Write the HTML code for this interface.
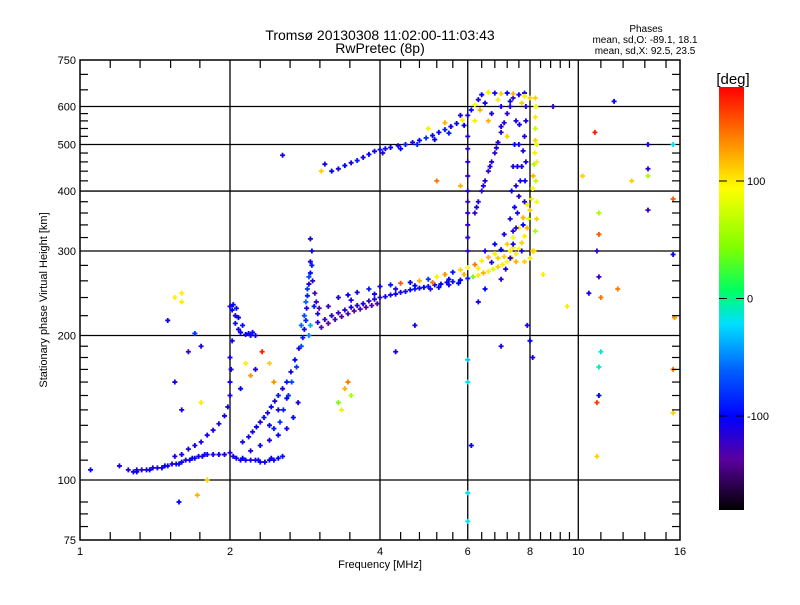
<!DOCTYPE html>
<html><head><meta charset="utf-8">
<style>
body{margin:0;background:#fff}
svg text{font-family:"Liberation Sans",sans-serif;fill:#000}
</style></head>
<body>
<svg id="chart" width="800" height="600" viewBox="0 0 800 600" xmlns="http://www.w3.org/2000/svg">
<defs>
<linearGradient id="cbar" x1="0" y1="1" x2="0" y2="0">
<stop offset="0" stop-color="#000000"/>
<stop offset="0.12" stop-color="#5a00a0"/>
<stop offset="0.22" stop-color="#0000ff"/>
<stop offset="0.33" stop-color="#0060ff"/>
<stop offset="0.44" stop-color="#00e0ff"/>
<stop offset="0.52" stop-color="#00ff60"/>
<stop offset="0.62" stop-color="#80ff00"/>
<stop offset="0.76" stop-color="#ffff00"/>
<stop offset="0.88" stop-color="#ff8000"/>
<stop offset="1" stop-color="#ff0000"/>
</linearGradient>
</defs>
<text x="380" y="40" font-size="14" text-anchor="middle">Tromsø 20130308 11:02:00-11:03:43</text>
<text x="380" y="53" font-size="14" text-anchor="middle">RwPretec (8p)</text>
<text x="646" y="32" font-size="10" text-anchor="middle">Phases</text>
<text x="645" y="43" font-size="10" text-anchor="middle">mean, sd,O: -89.1, 18.1</text>
<text x="645" y="54" font-size="10" text-anchor="middle">mean, sd,X:  92.5, 23.5</text>
<g id="grid"></g>
<g id="marks"></g>
<rect x="80" y="60" width="600" height="480" fill="none" stroke="#000" stroke-width="1.5"/>
<g id="axes"></g>
<text x="380" y="568" font-size="11" text-anchor="middle">Frequency [MHz]</text>
<text x="0" y="0" font-size="11" text-anchor="middle" transform="translate(47,300) rotate(-90)">Stationary phase Virtual Height [km]</text>
<rect x="719" y="87" width="25" height="423" fill="url(#cbar)"/>
<text x="733" y="84" font-size="15" text-anchor="middle">[deg]</text>
<g id="cbticks"></g>
</svg>
<script>
const NS='http://www.w3.org/2000/svg';
const xTickLabels=[1,2,4,6,8,10,16];
const xGrid=[2,4,6,8,10];
const xMinor=[1.15,1.32,1.52,1.74,2.3,2.64,3.03,3.48,4.4,4.8,5.2,5.6,6.4,6.8,7.2,7.6,8.4,8.8,9.2,9.6,11.1,12.3,13.6,15];
const yTickLabels=[75,100,200,300,400,500,600,750];
const yGrid=[100,200,300,400,500,600];
const yMinor=[80,85,90,110,120,130,140,150,160,170,180,190,220,240,260,280,320,340,360,380,420,440,460,480,520,540,560,580,650,700];
const cbTicks=[100,0,-100];
// echo traces: [frequency MHz, height km, phase deg]
const traceLowE=[[1.05,105,-100],[1.2,107,-110],[1.25,105,-110],[1.28,104,-115],[1.3,105,-110],[1.33,105,-112],[1.36,105,-110],[1.4,106,-108],[1.43,106,-110],[1.46,106,-105],[1.5,107,-110],[1.53,108,-108],[1.56,108,-110],[1.6,109,-105],[1.63,110,-110],[1.66,110,-108],[1.7,111,-110],[1.73,112,-105],[1.76,112,-110],[1.8,113,-108],[1.85,113,-110],[1.9,113,-105],[1.95,113,-110],[2.0,114,-112],[2.03,112,-110],[2.06,111,-108],[2.1,110,-110],[2.15,110,-105],[2.2,110,-110],[2.25,110,-112],[2.3,109,-110],[2.35,109,-105],[2.4,110,-108],[2.45,110,-110],[2.5,111,-100],[2.55,112,-95],[1.3,104,-105],[1.38,105,-100],[1.48,107,-100],[1.58,108,-95],[1.68,111,-100],[1.78,113,-95],[2.12,111,-100],[2.28,110,-95],[2.42,111,-100]];
const traceRiseE=[[1.55,112,-110],[1.6,113,-105],[1.65,116,-110],[1.7,118,-108],[1.75,120,-110],[1.8,124,-105],[1.85,127,-110],[1.9,131,-110],[1.95,136,-108],[1.98,142,-110],[2.0,150,-110],[2.0,160,-108],[2.01,170,-110],[2.0,180,-105],[2.02,195,-110],[2.0,230,-110],[2.02,226,-100],[2.05,220,-110],[2.05,212,-95],[2.08,206,-110],[2.1,203,-100],[2.15,201,-110],[2.2,200,-105],[2.25,200,-110],[2.03,232,-100],[2.06,228,-95],[2.08,218,-100],[2.12,210,-95],[2.18,202,-100],[2.22,203,-95]];
const traceMid=[[2.12,120,-110],[2.18,123,-105],[2.22,126,-110],[2.26,129,-100],[2.3,132,-110],[2.34,135,-95],[2.38,138,-110],[2.42,142,-100],[2.46,146,-110],[2.5,150,-90],[2.55,155,-110],[2.6,160,-95],[2.65,168,-110],[2.7,178,-100],[2.75,188,-110],[2.8,198,-90],[2.82,206,-110],[2.84,215,-85],[2.85,228,-110],[2.86,242,-90],[2.88,256,-110],[2.9,270,-100],[2.9,285,-110],[2.92,300,-105],[2.9,318,-110],[2.95,230,-90],[3.0,222,-110],[2.78,210,-60],[2.2,115,-110],[2.3,118,-105],[2.4,121,-110],[2.5,124,-100],[2.6,128,-110],[2.68,135,-100],[2.74,145,-110],[2.4,130,-100],[2.5,140,-110],[2.6,148,-100],[2.82,220,-70],[2.84,235,-60],[2.86,250,-80],[2.88,265,-70],[2.92,280,-90],[2.93,260,-120],[2.96,245,-130],[2.98,235,-120],[3.02,228,-130],[2.9,210,-40],[2.88,200,-50],[2.78,190,-70],[2.72,172,-80],[2.66,160,-70],[2.62,150,-80],[2.56,140,-90],[2.52,132,-80],[2.45,128,-90]];
const traceF2low=[[3.0,213,-115],[3.1,216,-120],[3.2,220,-115],[3.3,223,-120],[3.4,226,-115],[3.5,229,-110],[3.6,231,-115],[3.7,233,-110],[3.8,236,-120],[3.9,238,-110],[4.0,240,-115],[4.1,241,-105],[4.2,243,-110],[4.3,244,-100],[4.4,246,-110],[4.5,247,-95],[4.6,249,-105],[4.7,250,-90],[4.8,251,-110],[4.9,252,-100],[5.0,253,-95],[5.15,255,-110],[5.3,256,-100],[5.45,258,-105],[5.6,259,-95],[5.8,261,-100],[6.0,263,-90],[6.15,265,40],[6.3,267,100],[6.45,270,120],[6.6,272,100],[6.75,275,80],[6.9,278,110],[7.05,281,100],[7.2,285,90],[7.35,290,110],[7.5,296,100],[7.6,303,90],[7.7,312,110],[7.8,322,100],[7.9,335,120],[7.95,350,80],[8.0,365,110],[8.05,385,100],[8.1,405,90],[8.12,430,120],[8.15,455,60],[8.18,480,100],[8.2,510,110],[8.2,540,70],[8.2,570,100],[8.22,600,90],[8.2,625,110],[3.05,208,-130],[3.15,212,-140],[3.25,216,-130],[3.35,219,-140],[3.45,222,-130],[3.55,225,-135],[3.65,227,-130],[3.75,229,-140],[3.85,231,-130],[3.95,233,-135],[5.05,250,-110],[5.25,252,-100],[5.5,255,-110],[5.75,257,-100],[8.15,300,100],[8.2,330,60],[8.25,350,110],[8.25,380,90],[8.22,420,70],[8.25,460,100],[8.25,500,80],[8.1,300,110],[8.0,290,100],[7.8,285,110]];
const traceF2up=[[3.3,240,-110],[3.45,243,-100],[3.6,246,-110],[3.8,250,-90],[4.0,253,-105],[4.2,255,-95],[4.4,257,150],[4.6,258,-100],[4.8,260,120],[5.0,262,-80],[5.2,265,100],[5.4,268,130],[5.6,271,-90],[5.8,274,110],[6.0,277,90],[6.2,281,140],[6.4,286,100],[6.6,291,120],[6.8,296,100],[7.0,302,-100],[7.2,310,110],[7.4,320,90],[7.6,335,100],[7.75,352,120],[7.9,375,100],[6.5,300,-110],[6.8,310,-100],[7.1,325,-110],[7.3,300,100],[7.5,285,120],[6.9,290,110],[3.15,230,-120],[3.5,237,-110],[3.9,244,-100],[4.3,250,-110],[4.7,254,-100],[5.1,258,140],[5.5,262,-100],[5.9,268,120],[6.3,276,100],[6.7,284,-110],[7.1,292,110],[7.4,305,100]];
const traceX1=[[6.2,360,-120],[6.3,380,-115],[6.4,400,-120],[6.5,420,-115],[6.6,440,-120],[6.7,460,-115],[6.8,480,-120],[6.9,505,-115],[7.0,530,-120],[7.1,555,-115],[7.2,580,-120],[7.3,600,-115],[7.4,625,-120],[6.25,370,-110],[6.45,410,-110],[6.65,450,-110],[6.85,492,-110]];
const traceX2=[[7.0,262,-115],[7.15,275,-110],[7.3,290,-115],[7.4,310,-110],[7.5,335,-115],[7.55,360,-110],[7.6,390,-115],[7.65,420,-110],[7.7,450,-115],[7.75,485,-110],[7.8,520,-115],[7.85,560,-110],[7.85,600,-115],[7.8,640,-110],[7.4,330,-110],[7.45,370,-105],[7.5,410,-110],[7.55,450,-100],[7.6,500,-110],[7.62,550,-105],[7.7,300,-110],[7.75,340,-100],[7.8,380,-110],[7.82,420,-100],[7.85,460,-110],[7.3,350,-110],[7.35,400,-100],[7.4,450,-110],[7.45,500,-100],[7.5,560,-110]];
const traceF2high=[[3.2,440,-100],[3.3,445,-110],[3.4,452,-100],[3.5,458,-110],[3.6,463,-90],[3.7,470,-110],[3.8,477,-100],[3.9,484,-110],[4.0,488,-95],[4.1,490,-110],[4.2,493,-100],[4.35,497,-110],[4.5,500,-90],[4.65,505,-110],[4.8,510,-100],[4.95,516,-80],[5.1,522,-110],[5.25,530,-100],[5.4,537,-90],[5.55,545,-110],[5.7,553,-100],[5.85,562,100],[6.0,575,-110],[6.1,590,-100],[6.2,605,90],[6.3,620,-110],[6.4,635,-100],[6.6,642,100],[6.8,640,-110],[7.0,638,110],[7.2,640,-100],[7.4,638,120],[7.6,635,-110],[7.8,630,100],[8.0,625,110],[5.0,540,100],[5.4,555,120],[5.8,575,-110],[6.2,560,100],[6.6,560,120],[7.0,545,-110],[7.2,520,110],[7.0,600,-110],[4.05,480,-110],[4.4,490,-100],[4.75,500,-90],[5.15,512,-100],[5.5,528,-90],[5.9,548,-100],[6.5,610,-110],[6.9,620,100],[7.3,615,-100],[7.7,610,110],[6.7,580,-110],[6.35,590,120]];
const traceVert6=[[6.0,300,-120],[6.0,320,-115],[6.0,340,-120],[6.0,360,-115],[6.0,380,-120],[6.0,400,-115],[6.0,430,-120],[6.0,460,-115],[6.0,490,-120],[6.0,520,-115]];
const scatterPts=[[1.5,215,-110],[1.55,240,100],[1.6,245,100],[1.6,235,100],[1.7,202,-80],[1.75,190,-110],[1.65,185,-120],[1.55,160,-110],[1.75,145,100],[1.6,140,-110],[1.72,93,120],[1.8,100,110],[1.58,90,-100],[2.15,175,100],[2.2,165,130],[2.25,170,-110],[2.32,185,170],[2.4,175,110],[2.45,160,130],[2.1,155,-100],[3.4,155,120],[3.45,160,140],[3.5,150,60],[3.35,140,100],[3.3,145,40],[3.05,440,110],[3.1,455,-110],[2.55,475,-110],[4.3,185,-110],[4.7,210,-110],[5.2,420,140],[5.8,410,120],[6.0,178,-30],[6.0,160,-20],[6.0,94,-20],[6.0,82,-20],[6.1,118,-100],[6.3,235,-110],[6.5,250,-100],[7.9,210,-110],[8.0,195,-100],[8.1,180,-110],[8.5,268,100],[8.9,600,-120],[10.2,430,110],[10.8,530,170],[11.0,360,60],[11.0,325,150],[10.9,300,-120],[11.0,265,-120],[11.1,240,140],[11.1,185,-20],[11.0,172,-10],[11.0,150,-100],[10.9,145,160],[10.9,112,110],[11.8,615,-100],[12.8,420,110],[13.8,500,-110],[13.8,445,-120],[13.8,430,60],[13.8,365,-120],[15.5,500,-20],[15.5,385,150],[15.5,295,-100],[15.6,218,130],[15.5,170,140],[15.5,138,110],[12,250,140],[10.5,245,-110],[9.5,230,100],[7.0,190,-110]];
const allTraces=[traceLowE,traceRiseE,traceMid,traceF2low,traceF2up,traceX1,traceX2,traceF2high,traceVert6,scatterPts];

const X0=80,X1=680,Y0=540,Y1=60;
function xs(f){return X0+(X1-X0)*Math.log2(f)/4;}
function ys(h){return Y0-(Y0-Y1)*Math.log10(h/75)/1;}
const cstops=[[-180,[0,0,0]],[-137,[90,0,160]],[-100,[0,0,255]],[-62,[0,96,255]],[-22,[0,224,255]],[7,[0,255,96]],[43,[128,255,0]],[94,[255,255,0]],[137,[255,128,0]],[180,[255,0,0]]];
function color(p){
  for(let i=1;i<cstops.length;i++){
    if(p<=cstops[i][0]){const a=cstops[i-1],b=cstops[i];const t=(p-a[0])/(b[0]-a[0]);
      const c=a[1].map((v,k)=>Math.round(v+(b[1][k]-v)*t));return 'rgb('+c.join(',')+')';}
  }
  return 'rgb(255,0,0)';
}
function mk(tag,attrs,parent){const e=document.createElementNS(NS,tag);for(const k in attrs)e.setAttribute(k,attrs[k]);parent.appendChild(e);return e;}
const grid=document.getElementById('grid'),axes=document.getElementById('axes'),marks=document.getElementById('marks');
xGrid.forEach(f=>{const l=mk('line',{x1:xs(f),x2:xs(f),y1:Y1,y2:Y0,stroke:'#000','stroke-width':1.3},grid);

});
yGrid.forEach(h=>{const l=mk('line',{x1:X0,x2:X1,y1:ys(h),y2:ys(h),stroke:'#000','stroke-width':1.3},grid);

});
xMinor.forEach(f=>{[[Y0,Y0-8],[Y1,Y1+8]].forEach(p=>{const l=mk('line',{x1:xs(f),x2:xs(f),y1:p[0],y2:p[1],stroke:'#000','stroke-width':1.2},axes);

});});
yMinor.forEach(h=>{[[X0,X0+8],[X1,X1-8]].forEach(p=>{const l=mk('line',{x1:p[0],x2:p[1],y1:ys(h),y2:ys(h),stroke:'#000','stroke-width':1.2},axes);

});});
xTickLabels.forEach(f=>{const t=mk('text',{x:xs(f),y:555,'font-size':11,'text-anchor':'middle'},axes);t.textContent=f;

});
yTickLabels.forEach(h=>{const t=mk('text',{x:76,y:ys(h)+4,'font-size':11,'text-anchor':'end'},axes);t.textContent=h;

});
const cb=document.getElementById('cbticks');
function cy(p){return 510-423*(p+180)/360;}
cbTicks.forEach(p=>{
  [[719,727],[744,736]].forEach(q=>{const l=mk('line',{x1:q[0],x2:q[1],y1:cy(p),y2:cy(p),stroke:'#000','stroke-width':1},cb);
  
  });
  const t=mk('text',{x:747,y:cy(p)+4,'font-size':11},cb);t.textContent=p;
  
  
});
allTraces.forEach(tr=>tr.forEach(d=>{
  const x=xs(d[0]),y=ys(d[1]),c=color(d[2]);
  const g=mk('path',{d:`M${x-2.5} ${y}H${x+2.5}M${x} ${y-2.5}V${y+2.5}`,stroke:c,'stroke-width':1.8},marks);
  
  
}));
</script>
</body></html>
